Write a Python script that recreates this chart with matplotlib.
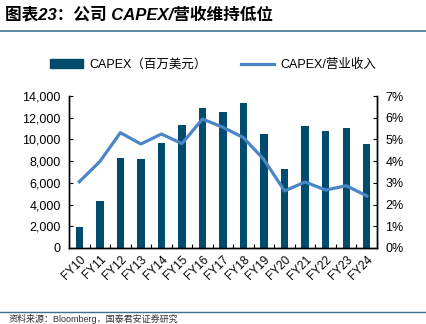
import matplotlib.pyplot as plt
import numpy as np
from matplotlib.ticker import FuncFormatter
from matplotlib.lines import Line2D

plt.rcParams['font.family'] = ['Liberation Sans', 'Noto Sans CJK SC', 'DejaVu Sans']

years = ['FY10', 'FY11', 'FY12', 'FY13', 'FY14', 'FY15', 'FY16', 'FY17',
         'FY18', 'FY19', 'FY20', 'FY21', 'FY22', 'FY23', 'FY24']
capex = [1960, 4330, 8300, 8200, 9640, 11300, 12860, 12550,
         13400, 10500, 7300, 11200, 10750, 11080, 9550]
capex_ratio = [3.05, 3.98, 5.31, 4.79, 5.25, 4.81, 5.94, 5.56,
               5.08, 4.06, 2.63, 3.04, 2.67, 2.87, 2.40]

bar_color = '#004B6E'
line_color = '#4A86C5'

fig = plt.figure(figsize=(4.26, 3.24), dpi=100)
ax = fig.add_axes([0.162, 0.2346, 0.723, 0.469])
ax2 = ax.twinx()

x = np.arange(len(years))
ax.bar(x, capex, width=0.36, color=bar_color, zorder=2)
ax2.plot(x, capex_ratio, color=line_color, linewidth=2.3, zorder=3)

ax.set_xlim(-0.5, len(years) - 0.5)
ax.set_ylim(0, 14000)
ax.set_yticks(np.arange(0, 14001, 2000))
ax.yaxis.set_major_formatter(FuncFormatter(lambda v, p: f'{int(v):,}'))
ax2.set_ylim(0, 7)
ax2.set_yticks(np.arange(0, 8, 1))
ax2.yaxis.set_major_formatter(FuncFormatter(lambda v, p: f'{int(v)}%'))

ax.set_xticks(x)
ax.set_xticklabels(years, rotation=45, ha='right', rotation_mode='anchor', fontsize=8.5)
ax.set_xticks(np.arange(-0.5, len(years), 1), minor=True)
ax.tick_params(axis='x', which='major', length=0, pad=4)
ax.tick_params(axis='x', which='minor', direction='in', length=3, width=0.8)
ax.tick_params(axis='y', direction='in', length=3, width=0.8, labelsize=9, pad=6)
ax2.tick_params(axis='y', direction='in', length=3, width=0.8, labelsize=9, pad=6)

for a in (ax, ax2):
    a.spines['top'].set_visible(False)
    for s in ('left', 'right', 'bottom'):
        a.spines[s].set_linewidth(1.0)

handles = [plt.Rectangle((0, 0), 1, 1, color=bar_color),
           Line2D([0], [0], color=line_color, linewidth=2.3)]
fig.legend(handles, ['CAPEX（百万美元）', 'CAPEX/营业收入'],
           loc='center', bbox_to_anchor=(0.5, 1 - 65 / 324), ncol=2,
           frameon=False, fontsize=9, handlelength=2.6, columnspacing=2.8,
           handletextpad=0.5)

fig.text(0.012, 1 - 15 / 324, '图表23：公司 CAPEX/营收维持低位', fontsize=12,
         fontweight='bold', style='italic', va='center', ha='left')
fig.add_artist(Line2D([0, 1], [1 - 31 / 324, 1 - 31 / 324], color='#3E6F8E', linewidth=1.2))
fig.add_artist(Line2D([0, 1], [1 - 311.5 / 324, 1 - 311.5 / 324], color='#3E6F8E', linewidth=1.0))
fig.text(0.02, 1 - 323.5 / 324, '资料来源：Bloomberg，国泰君安证券研究', fontsize=6.5,
         va='bottom', ha='left', color='#333333')

fig.savefig('out.png', dpi=100)
